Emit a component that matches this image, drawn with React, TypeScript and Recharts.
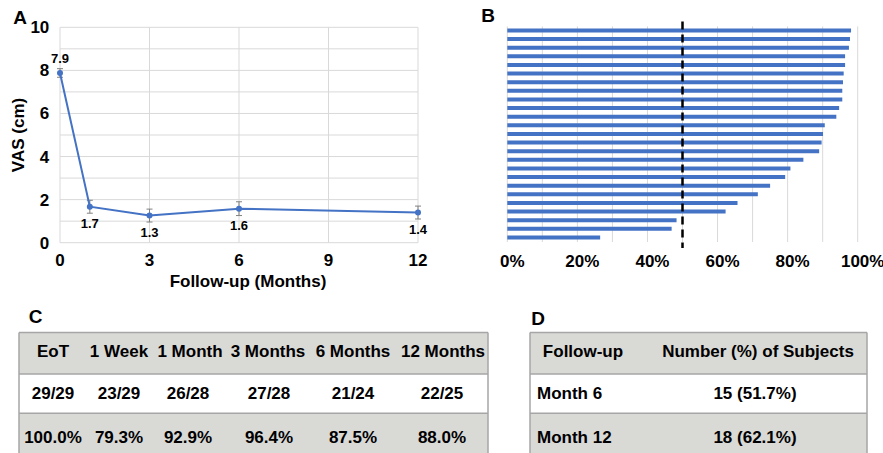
import {
  LineChart,
  Line,
  XAxis,
  YAxis,
  CartesianGrid,
  ErrorBar,
  LabelList,
  Label,
  BarChart,
  Bar,
  ReferenceLine,
} from 'recharts';

// Panel A: mean VAS over follow-up
const months = [0, 1, 3, 6, 12];
const vasMean = [7.88, 1.67, 1.26, 1.58, 1.4];
const vasErr = [0.2, 0.3, 0.3, 0.32, 0.3];
const vasLabels = ['7.9', '1.7', '1.3', '1.6', '1.4'];
const monthTicks = [0, 3, 6, 9, 12];
const vasTicks = [0, 1, 2, 3, 4, 5, 6, 7, 8, 9, 10];

// Panel B: per-subject response (%), sorted
const responsePct = [
  98.1, 97.8, 97.5, 96.4, 96.4, 96.0, 95.8, 95.6, 95.6, 94.7, 93.9, 90.6, 90.1,
  89.7, 89.0, 84.5, 80.8, 79.3, 75.0, 71.5, 65.7, 62.3, 48.3, 46.9, 26.5,
];
const pctTicks = [0, 10, 20, 30, 40, 50, 60, 70, 80, 90, 100];
const threshold = 50;

// Panel C table
const cHeaders = ['EoT', '1 Week', '1 Month', '3 Months', '6 Months', '12 Months'];
const cCounts = ['29/29', '23/29', '26/28', '27/28', '21/24', '22/25'];
const cPercents = ['100.0%', '79.3%', '92.9%', '96.4%', '87.5%', '88.0%'];

// Panel D table
const dHeaders = ['Follow-up', 'Number (%) of Subjects'];
const dTimes = ['Month 6', 'Month 12'];
const dValues = ['15 (51.7%)', '18 (62.1%)'];

const BLUE = '#4472C4';
const GRID = '#d9d9d9';
const FONT = '"Liberation Sans", Arial, Helvetica, sans-serif';
const tickStyle = { fill: '#000', fontSize: 17, fontWeight: 'bold' as const };

const vasData = months.map((m, i) => ({
  month: m,
  vas: vasMean[i],
  err: vasErr[i],
  label: vasLabels[i],
}));

const respData = responsePct.map((p, i) => ({ subject: `S${i + 1}`, pct: p }));

const renderVasLabel = (props: any) => {
  const vb = props.viewBox ?? {};
  const x = Number(props.x ?? vb.x);
  const y = Number(props.y ?? vb.y);
  const above = props.index === 0;
  return (
    <text
      x={x}
      y={above ? y - 10 : y + 21}
      textAnchor="middle"
      fontSize={13}
      fontWeight="bold"
      fill="#000"
    >
      {props.value}
    </text>
  );
};

const renderThreshold = (p: any) => {
  const top = Math.min(p.y1, p.y2);
  const bottom = Math.max(p.y1, p.y2);
  return (
    <line
      x1={p.x1}
      x2={p.x2}
      y1={top - 5}
      y2={bottom + 6}
      stroke="#000"
      strokeWidth={2.5}
      strokeDasharray="8 5"
    />
  );
};

// table layout
const cLeft = 19;
const cRight = 488;
const cHeadX = [53, 119, 190, 268, 353, 443];
const cBodyX = [53, 119, 188, 269, 353, 442];
const dLeft = 530;
const dRight = 867;
const rowLines = [332.5, 374, 413.3];
const baselines = [357, 399, 443];
const ROW_BG = '#d9d9d6';
const BORDER = '#a6a6a6';

function Tables() {
  const cell = { fontSize: 17, fontWeight: 'bold' as const, fill: '#000' };
  return (
    <svg width={883} height={453} style={{ position: 'absolute', left: 0, top: 0 }}>
      {/* panel letters */}
      <text x={20} y={24} textAnchor="middle" fontSize={19} fontWeight="bold">A</text>
      <text x={488} y={22} textAnchor="middle" fontSize={19} fontWeight="bold">B</text>
      <text x={35.5} y={323} textAnchor="middle" fontSize={19} fontWeight="bold">C</text>
      <text x={538} y={325} textAnchor="middle" fontSize={19} fontWeight="bold">D</text>

      {/* table C */}
      <rect x={cLeft} y={rowLines[0]} width={cRight - cLeft} height={rowLines[1] - rowLines[0]} fill={ROW_BG} />
      <rect x={cLeft} y={rowLines[2]} width={cRight - cLeft} height={453 - rowLines[2]} fill={ROW_BG} />
      {rowLines.map((y) => (
        <line key={`cl${y}`} x1={cLeft} x2={cRight} y1={y} y2={y} stroke={BORDER} strokeWidth={1.5} />
      ))}
      <line x1={cLeft} x2={cLeft} y1={rowLines[0]} y2={453} stroke={BORDER} strokeWidth={1.5} />
      <line x1={cRight} x2={cRight} y1={rowLines[0]} y2={453} stroke={BORDER} strokeWidth={1.5} />
      {cHeaders.map((h, i) => (
        <text key={`ch${i}`} x={cHeadX[i]} y={baselines[0]} textAnchor="middle" {...cell}>{h}</text>
      ))}
      {cCounts.map((h, i) => (
        <text key={`cc${i}`} x={cBodyX[i]} y={baselines[1]} textAnchor="middle" {...cell}>{h}</text>
      ))}
      {cPercents.map((h, i) => (
        <text key={`cp${i}`} x={cBodyX[i]} y={baselines[2]} textAnchor="middle" {...cell}>{h}</text>
      ))}

      {/* table D */}
      <rect x={dLeft} y={rowLines[0]} width={dRight - dLeft} height={rowLines[1] - rowLines[0]} fill={ROW_BG} />
      <rect x={dLeft} y={rowLines[2]} width={dRight - dLeft} height={453 - rowLines[2]} fill={ROW_BG} />
      {rowLines.map((y) => (
        <line key={`dl${y}`} x1={dLeft} x2={dRight} y1={y} y2={y} stroke={BORDER} strokeWidth={1.5} />
      ))}
      <line x1={dLeft} x2={dLeft} y1={rowLines[0]} y2={453} stroke={BORDER} strokeWidth={1.5} />
      <line x1={dRight} x2={dRight} y1={rowLines[0]} y2={453} stroke={BORDER} strokeWidth={1.5} />
      <text x={583} y={baselines[0]} textAnchor="middle" {...cell}>{dHeaders[0]}</text>
      <text x={758} y={baselines[0]} textAnchor="middle" {...cell}>{dHeaders[1]}</text>
      {dTimes.map((t, i) => (
        <text key={`dt${i}`} x={537} y={baselines[i + 1]} {...cell}>{t}</text>
      ))}
      {dValues.map((v, i) => (
        <text key={`dv${i}`} x={755} y={baselines[i + 1]} textAnchor="middle" {...cell}>{v}</text>
      ))}
    </svg>
  );
}

export default function App() {
  return (
    <div
      style={{
        position: 'absolute',
        left: 0,
        top: 0,
        width: 883,
        height: 453,
        overflow: 'hidden',
        background: '#fff',
        fontFamily: FONT,
      }}
    >
      <Tables />

      <div style={{ position: 'absolute', left: 0, top: 0 }}>
        <LineChart
          width={440}
          height={295}
          data={vasData}
          margin={{ top: 27.3, right: 22, bottom: 0, left: 0 }}
        >
          <CartesianGrid stroke={GRID} strokeWidth={1} />
          <XAxis
            dataKey="month"
            type="number"
            domain={[0, 12]}
            ticks={monthTicks}
            interval={0}
            axisLine={false}
            tickLine={false}
            tickSize={0}
            tickMargin={11.6}
            height={52.3}
            tick={tickStyle}
          >
            <Label
              value="Follow-up (Months)"
              position="insideBottom"
              offset={8}
              dx={9}
              style={{ fontSize: 17, fontWeight: 'bold', fill: '#000' }}
            />
          </XAxis>
          <YAxis
            type="number"
            domain={[0, 10]}
            ticks={vasTicks}
            interval={0}
            tickFormatter={(v) => (v % 2 === 0 ? String(v) : '')}
            width={60}
            axisLine={false}
            tickLine={false}
            tickSize={0}
            tickMargin={10.7}
            tick={tickStyle}
          >
            <Label
              value="VAS (cm)"
              angle={-90}
              position="insideLeft"
              offset={18}
              style={{ fontSize: 17, fontWeight: 'bold', fill: '#000', textAnchor: 'middle' }}
            />
          </YAxis>
          <Line
            dataKey="vas"
            stroke={BLUE}
            strokeWidth={2}
            dot={{ r: 3, fill: BLUE, stroke: BLUE, strokeWidth: 0 }}
            isAnimationActive={false}
          >
            <ErrorBar
              dataKey="err"
              direction="y"
              width={3}
              stroke="#808080"
              strokeWidth={1}
              isAnimationActive={false}
            />
            <LabelList dataKey="label" content={renderVasLabel} />
          </Line>
        </LineChart>
      </div>

      <div style={{ position: 'absolute', left: 480, top: 0 }}>
        <BarChart
          layout="vertical"
          width={403}
          height={290}
          data={respData}
          margin={{ top: 26.4, right: 25.3, bottom: 0, left: 27.3 }}
        >
          <CartesianGrid horizontal={false} stroke={GRID} strokeWidth={1} />
          <XAxis
            type="number"
            domain={[0, 100]}
            ticks={pctTicks}
            interval={0}
            tickFormatter={(v) => (v % 20 === 0 ? `${v}%` : '')}
            axisLine={false}
            tickLine={false}
            tickSize={0}
            tickMargin={13}
            height={48}
            tick={{ ...tickStyle, dx: 5 }}
          />
          <YAxis type="category" dataKey="subject" hide width={0} />
          <Bar dataKey="pct" fill={BLUE} barSize={4} isAnimationActive={false} />
          <ReferenceLine x={threshold} shape={renderThreshold} />
        </BarChart>
      </div>
    </div>
  );
}
